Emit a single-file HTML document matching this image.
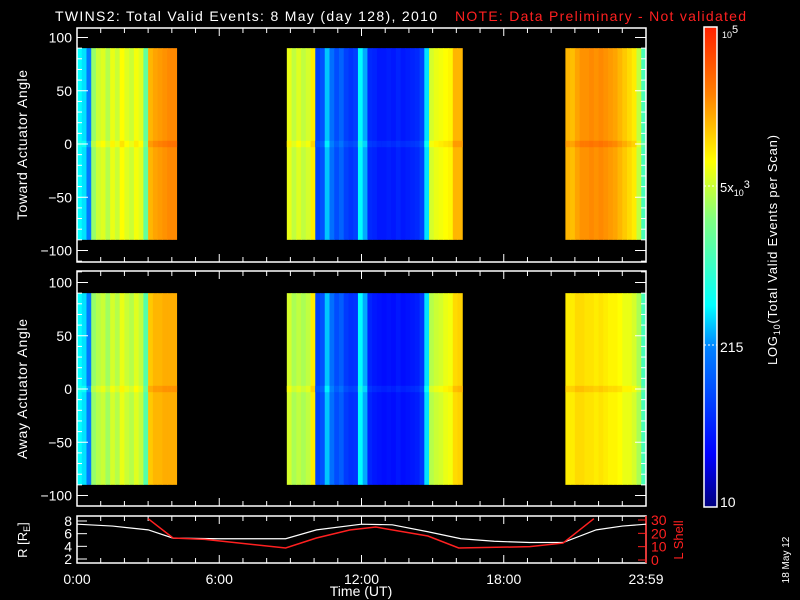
<!DOCTYPE html>
<html><head><meta charset="utf-8"><style>
html,body{margin:0;padding:0;background:#000;}
svg{display:block;font-family:"Liberation Sans",sans-serif;}
</style></head><body>
<svg id="chart" width="800" height="600" viewBox="0 0 800 600">
<defs>
<linearGradient id="jet" x1="0" y1="1" x2="0" y2="0">
<stop offset="0" stop-color="#00007f"/><stop offset="0.11" stop-color="#0000ff"/>
<stop offset="0.33" stop-color="#0080ff"/><stop offset="0.42" stop-color="#00ffff"/>
<stop offset="0.6" stop-color="#80ff80"/><stop offset="0.72" stop-color="#ffff00"/>
<stop offset="0.86" stop-color="#ff8000"/><stop offset="1" stop-color="#ff2000"/>
</linearGradient>
</defs>
<text x="55" y="21" fill="#fff" font-size="14" textLength="382" lengthAdjust="spacing">TWINS2: Total Valid Events:  8 May (day 128), 2010</text>
<text x="455" y="21" fill="#ff2020" font-size="14" textLength="291" lengthAdjust="spacing">NOTE: Data Preliminary - Not validated</text>
<g id="specTop"></g>
<g id="specBot"></g>
<g id="axes"></g>
<g id="orbit"></g>
<text transform="translate(27,145) rotate(-90)" text-anchor="middle" fill="#fff" font-size="14" textLength="150" lengthAdjust="spacing">Toward Actuator Angle</text>
<text transform="translate(27,389) rotate(-90)" text-anchor="middle" fill="#fff" font-size="14" textLength="140" lengthAdjust="spacing">Away Actuator Angle</text>
<text transform="translate(27,540) rotate(-90)" text-anchor="middle" fill="#fff" font-size="13">R [R<tspan font-size="9" dy="3">E</tspan><tspan dy="-3">]</tspan></text>
<text transform="translate(683,540) rotate(-90)" text-anchor="middle" fill="#ff2020" font-size="13">L Shell</text>
<text x="361" y="596" text-anchor="middle" fill="#fff" font-size="14">Time (UT)</text>
<text transform="translate(789,560) rotate(-90)" text-anchor="middle" fill="#fff" font-size="10">18 May 12</text>
<rect x="704" y="27" width="13" height="480" fill="url(#jet)" stroke="#fff" stroke-width="1.5"/>
<line x1="704" y1="186" x2="717" y2="186" stroke="#fff" stroke-dasharray="2,2"/>
<line x1="704" y1="345" x2="717" y2="345" stroke="#fff" stroke-dasharray="2,2"/>
<text x="722" y="38" fill="#fff" font-size="9">10<tspan font-size="11" dy="-5">5</tspan></text>
<text x="720" y="192" fill="#fff" font-size="13">5x<tspan font-size="9" dy="4">10</tspan><tspan font-size="11" dy="-8">3</tspan></text>
<text x="720" y="352" fill="#fff" font-size="14">215</text>
<text x="720" y="507" fill="#fff" font-size="14">10</text>
<text transform="translate(777,250) rotate(-90)" text-anchor="middle" fill="#fff" font-size="13" textLength="230" lengthAdjust="spacing">LOG<tspan font-size="9" dy="3">10</tspan><tspan dy="-3">(Total Valid Events per Scan)</tspan></text>
</svg>
<script>
// Spectrogram column values (normalized log scale 0..1), 0.2 h per column
const blockStarts = [0, 8.85, 20.6];
const colStep = 0.2;
const topBlock1 = [0.42,0.4,0.32,0.62,0.67,0.69,0.65,0.7,0.67,0.72,0.69,0.67,0.71,0.69,0.56,0.8,0.82,0.83,0.84,0.85,0.85];
const topBlock2 = [0.7,0.66,0.69,0.66,0.68,0.74,0.22,0.25,0.38,0.3,0.24,0.28,0.22,0.2,0.22,0.42,0.36,0.18,0.17,0.15,0.15,0.16,0.15,0.17,0.15,0.16,0.17,0.18,0.22,0.4,0.68,0.7,0.71,0.72,0.73,0.8,0.8];
const topBlock3 = [0.8,0.79,0.82,0.84,0.84,0.85,0.84,0.85,0.84,0.83,0.82,0.8,0.78,0.76,0.74,0.66,0.52];
const botBlock1 = [0.42,0.4,0.32,0.62,0.65,0.67,0.63,0.68,0.65,0.7,0.67,0.65,0.69,0.66,0.54,0.78,0.8,0.8,0.81,0.81,0.81];
const botBlock2 = [0.68,0.64,0.66,0.64,0.66,0.74,0.22,0.25,0.38,0.3,0.24,0.27,0.21,0.19,0.2,0.42,0.36,0.17,0.15,0.14,0.13,0.14,0.13,0.15,0.13,0.14,0.15,0.16,0.2,0.4,0.65,0.67,0.68,0.7,0.71,0.76,0.77];
const botBlock3 = [0.74,0.74,0.76,0.76,0.75,0.75,0.74,0.75,0.74,0.73,0.73,0.72,0.7,0.7,0.68,0.64,0.52];
// Orbit data
const rTimes = [0,1.5,3.0,4.05,6,8.8,10.1,12.0,13.3,14.8,16.2,17.6,19.1,20.5,21.9,23,24];
const rValues = [7.5,7.2,6.6,5.3,5.2,5.2,6.6,7.5,7.4,6.3,5.2,4.8,4.6,4.6,6.6,7.2,7.5];
const lTimes = [3.0,4.05,5.4,8.8,10.1,11.5,12.6,14.8,16.1,19.1,20.5,21.8];
const lValues = [31,16.5,15.5,9,16.5,22.5,24.7,18,9,10,12.7,31];
const yTicks = [-100,-50,0,50,100];
const xLabels = ['0:00','6:00','12:00','18:00','23:59'];
const rTicks = [2,4,6,8];
const lTicks = [0,10,20,30];

const NS='http://www.w3.org/2000/svg';
const X0=77,X1=646;
const xs=h=>X0+h*(X1-X0)/24;
function jet(t){
  t=Math.max(0,Math.min(1,t));
  const st=[[0,0,0,127],[0.11,0,0,255],[0.33,0,128,255],[0.42,0,255,255],[0.6,128,255,128],[0.72,255,255,0],[0.86,255,128,0],[1,255,32,0]];
  for(let i=1;i<st.length;i++){if(t<=st[i][0]){const a=st[i-1],b=st[i],f=(t-a[0])/(b[0]-a[0]);
    return `rgb(${Math.round(a[1]+f*(b[1]-a[1]))},${Math.round(a[2]+f*(b[2]-a[2]))},${Math.round(a[3]+f*(b[3]-a[3]))})`;}}
  return 'rgb(255,32,0)';
}
function el(tag,attrs,parent){const e=document.createElementNS(NS,tag);for(const k in attrs)e.setAttribute(k,attrs[k]);parent.appendChild(e);return e;}
const panels=[{g:'specTop',y0:144,blocks:[topBlock1,topBlock2,topBlock3],top:28,bot:262},
              {g:'specBot',y0:389,blocks:[botBlock1,botBlock2,botBlock3],top:271,bot:506}];
const pxPerDeg=1.065;
panels.forEach(p=>{
  const g=document.getElementById(p.g);
  const ys=a=>p.y0-a*pxPerDeg;
  p.blocks.forEach((vals,bi)=>{
    vals.forEach((v,i)=>{
      const h0=blockStarts[bi]+i*colStep, h1=Math.min(24,h0+colStep);
      const x=xs(h0), w=xs(h1)-x+0.5;
      const r=el('rect',{x:x,y:ys(90),width:w,height:ys(-90)-ys(90),fill:jet(v)},g);
      
      
      const z=el('rect',{x:x,y:ys(3),width:w,height:ys(-3)-ys(3),fill:jet(v+0.03)},g);
      
      
    });
  });
  const ax=document.getElementById('axes');
  const fr=el('rect',{x:X0,y:p.top,width:X1-X0,height:p.bot-p.top,fill:'none',stroke:'#fff','stroke-width':1.5},ax);
  
  
  for(let a=-110;a<=110;a+=10){
    const major=yTicks.includes(a), len=major?11:5, y=ys(a);
    if(y<p.top||y>p.bot) continue;
    el('line',{x1:X0,y1:y,x2:X0+len,y2:y,stroke:'#fff'},ax);
    el('line',{x1:X1,y1:y,x2:X1-len,y2:y,stroke:'#fff'},ax);
  }
  yTicks.forEach(a=>{
    const t=el('text',{x:72,y:ys(a)+5,'text-anchor':'end',fill:'#fff','font-size':14},ax);
    t.textContent=(a<0?'\u2212':'')+Math.abs(a);
    
    
  });
  for(let h=1;h<24;h++){
    const len=h%6===0?8:5,x=xs(h);
    el('line',{x1:x,y1:p.top,x2:x,y2:p.top+len,stroke:'#fff'},ax);
    el('line',{x1:x,y1:p.bot,x2:x,y2:p.bot-len,stroke:'#fff'},ax);
  }
});
// orbit panel
const og=document.getElementById('orbit');
const OT=516,OB=563;
const yR=r=>559-(r-2)*(559-521)/6;
const yL=l=>560-l*(560-520)/30;
const fr=el('rect',{x:X0,y:OT,width:X1-X0,height:OB-OT,fill:'none',stroke:'#fff','stroke-width':1.5},og);


for(let h=1;h<24;h++){const len=h%6===0?8:5,x=xs(h);
  el('line',{x1:x,y1:OT,x2:x,y2:OT+len,stroke:'#fff'},og);
  el('line',{x1:x,y1:OB,x2:x,y2:OB-len,stroke:'#fff'},og);}
rTicks.forEach(r=>{el('line',{x1:X0,y1:yR(r),x2:X0+10,y2:yR(r),stroke:'#fff'},og);
  const t=el('text',{x:72,y:yR(r)+5,'text-anchor':'end',fill:'#fff','font-size':14},og);t.textContent=r;
  
  });
lTicks.forEach(l=>{el('line',{x1:X1,y1:yL(l),x2:X1-8,y2:yL(l),stroke:'#ff2020'},og);
  const t=el('text',{x:651,y:yL(l)+5,fill:'#ff2020','font-size':14},og);t.textContent=l;
  
  });
el('line',{x1:X1,y1:OT,x2:X1,y2:OB,stroke:'#ff2020','stroke-width':1.5},og);
xLabels.forEach((s,i)=>{const t=el('text',{x:xs(i*6),y:584,'text-anchor':'middle',fill:'#fff','font-size':14},og);t.textContent=s;
  
  });
const clip=el('clipPath',{id:'oclip'},og);el('rect',{x:X0,y:OT,width:X1-X0,height:OB-OT},clip);
const rp=el('polyline',{points:rTimes.map((h,i)=>xs(h)+','+yR(rValues[i])).join(' '),fill:'none',stroke:'#fff','stroke-width':1.2,'clip-path':'url(#oclip)'},og);


const lp=el('polyline',{points:lTimes.map((h,i)=>xs(h)+','+yL(lValues[i])).join(' '),fill:'none',stroke:'#ff2020','stroke-width':1.5,'clip-path':'url(#oclip)'},og);


</script>
</body></html>
